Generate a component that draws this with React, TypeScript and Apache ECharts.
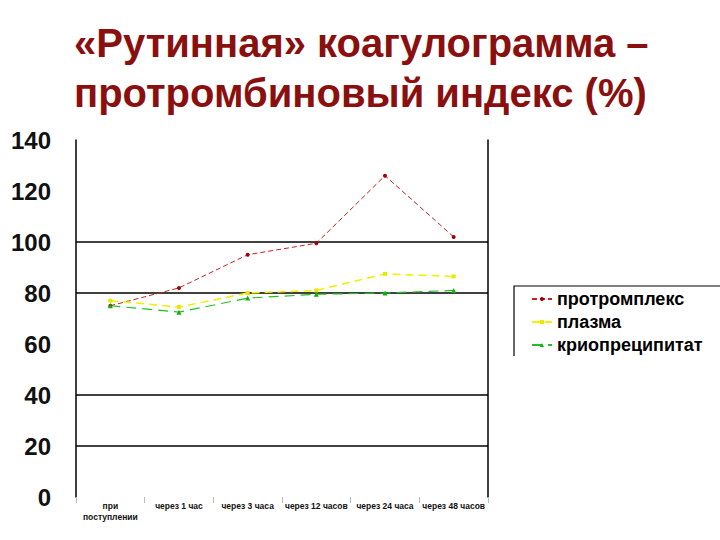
import React, { useEffect, useRef } from "react";
import * as echarts from "echarts";

const categories = ["при\nпоступлении", "через 1 час", "через 3 часа", "через 12 часов", "через 24 часа", "через 48 часов"];
const seriesNames = ["протромплекс", "плазма", "криопреципитат"];
const protromplex = [75, 82, 95, 99.5, 126, 102];
const plasma = [77, 74.5, 80, 81, 87.5, 86.5];
const cryo = [75, 72.5, 78, 79.5, 80, 81];
const yTicks = [0, 20, 40, 60, 80, 100, 120, 140];
const gridShown = [false, true, true, false, true, true, false, false];

export default function App() {
  const ref = useRef<HTMLDivElement>(null);
  useEffect(() => {
    document.body.style.margin = "0";
    const chart = echarts.init(ref.current!, null, { renderer: "svg" });
    chart.setOption({
      animation: false,
      backgroundColor: "#ffffff",
      title: {
        text: "«Рутинная» коагулограмма –\nпротромбиновый индекс (%)",
        left: 69,
        top: 13,
        textStyle: {
          fontFamily: "'Liberation Sans', Arial, sans-serif",
          fontWeight: "bold",
          fontSize: 40,
          lineHeight: 50,
          color: "#8a1010",
        },
      },
      legend: {
        orient: "vertical",
        left: 526,
        top: 285,
        itemGap: 5,
        itemWidth: 20,
        itemHeight: 5,
        data: seriesNames,
        textStyle: {
          fontFamily: "'Liberation Sans', Arial, sans-serif",
          fontWeight: "bold",
          fontSize: 18,
          lineHeight: 18,
          color: "#000",
        },
      },
      graphic: [
        {
          type: "polyline",
          shape: { points: [[514, 356], [514, 286], [720, 286]] },
          style: { stroke: "#000", lineWidth: 1.2, fill: "none" },
        },
      ],
      grid: { left: 76, right: 232, top: 140, bottom: 43 },
      xAxis: {
        type: "category",
        data: categories,
        boundaryGap: true,
        axisLine: { show: false },
        axisTick: { show: true, alignWithLabel: false, length: 6, lineStyle: { color: "#bbb" } },
        axisLabel: {
          interval: 0,
          margin: 3,
          fontFamily: "'Liberation Sans', Arial, sans-serif",
          fontWeight: "bold",
          fontSize: 8.5,
          lineHeight: 11,
          color: "#111",
        },
      },
      yAxis: [
        {
          type: "value",
          min: 0,
          max: 140,
          interval: 20,
          axisLine: { show: true, lineStyle: { color: "#000", width: 1.5 } },
          axisTick: { show: false },
          splitLine: {
            show: true,
            showMinLine: true,
            showMaxLine: true,
            lineStyle: {
              color: yTicks.map((_, i) => (gridShown[i] ? "#000" : "rgba(0,0,0,0)")),
              width: 1.5,
            },
          },
          axisLabel: {
            margin: 25,
            fontFamily: "'Liberation Sans', Arial, sans-serif",
            fontWeight: "bold",
            fontSize: 24,
            color: "#111",
          },
        },
        {
          type: "value",
          position: "right",
          min: 0,
          max: 140,
          interval: 20,
          axisLine: { show: true, lineStyle: { color: "#000", width: 1.5 } },
          axisTick: { show: false },
          axisLabel: { show: false },
          splitLine: { show: false },
        },
      ],
      series: [
        {
          name: seriesNames[0],
          type: "line",
          data: protromplex,
          symbol: "circle",
          symbolSize: 4,
          itemStyle: { color: "#a00000" },
          lineStyle: { color: "#c82020", width: 1, type: [5, 3] },
        },
        {
          name: seriesNames[1],
          type: "line",
          data: plasma,
          symbol: "rect",
          symbolSize: 4,
          itemStyle: { color: "#e8e800" },
          lineStyle: { color: "#f0f000", width: 1.5, type: [8, 5] },
        },
        {
          name: seriesNames[2],
          type: "line",
          data: cryo,
          symbol: "triangle",
          symbolSize: 5,
          itemStyle: { color: "#10b010" },
          lineStyle: { color: "#20c020", width: 1.2, type: [10, 6] },
        },
      ],
    });
    return () => chart.dispose();
  }, []);
  return <div ref={ref} style={{ position: "fixed", left: 0, top: 0, width: 720, height: 540 }} />;
}
